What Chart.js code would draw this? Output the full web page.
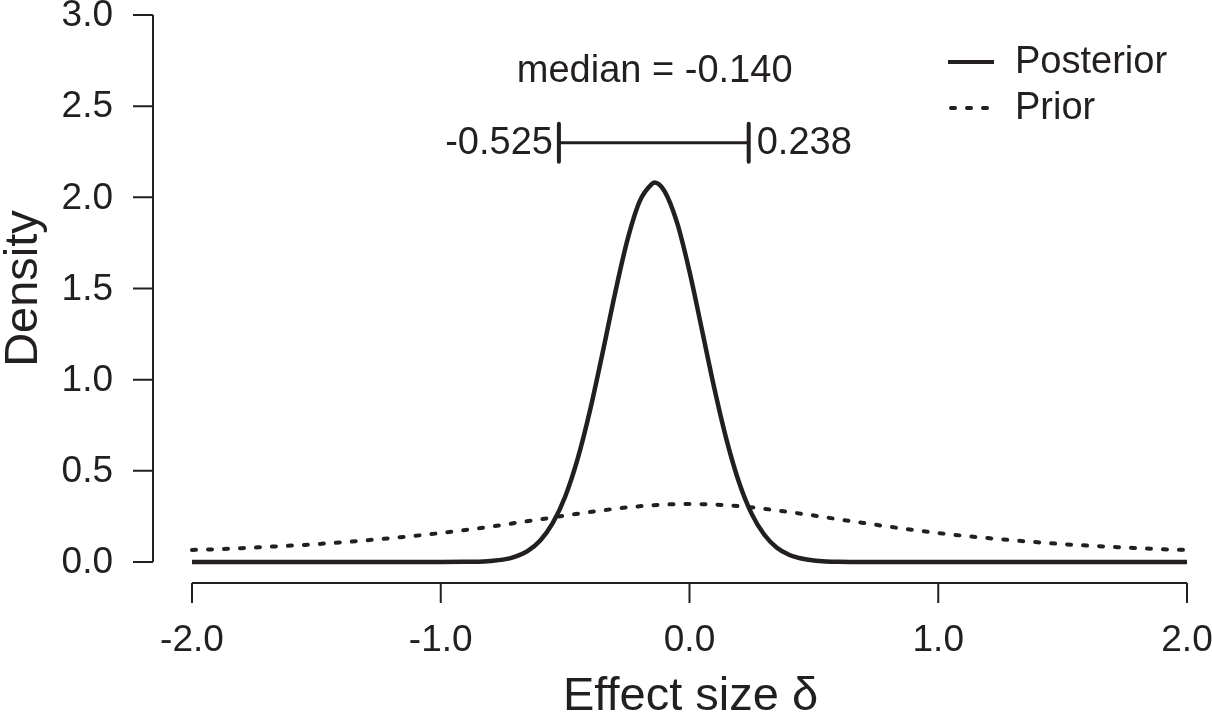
<!DOCTYPE html>
<html>
<head>
<meta charset="utf-8">
<script src="https://cdn.jsdelivr.net/npm/chart.js@4/dist/chart.umd.min.js"></script>
<style>
  html, body { margin: 0; padding: 0; background: #fff; }
  canvas { display: block; }
</style>
</head>
<body>
<canvas id="densityChart" width="1212" height="712"></canvas>
<script>
//Data
var postX = [-2.0, -1.5, -1.2, -1.0, -0.9, -0.85, -0.8, -0.75, -0.7, -0.65, -0.6, -0.55, -0.5, -0.45, -0.4, -0.35, -0.3, -0.25, -0.2, -0.15, -0.14, -0.1, -0.05, 0.0, 0.05, 0.1, 0.15, 0.2, 0.25, 0.3, 0.35, 0.4, 0.45, 0.5, 0.55, 0.6, 0.7, 0.8, 1.0, 1.5, 2.0];
var postY = [0, 0, 0, 0, 0.001, 0.002, 0.006, 0.013, 0.030, 0.061, 0.118, 0.213, 0.358, 0.564, 0.831, 1.143, 1.469, 1.764, 1.979, 2.075, 2.082, 2.033, 1.861, 1.593, 1.274, 0.951, 0.664, 0.433, 0.264, 0.151, 0.080, 0.040, 0.019, 0.008, 0.003, 0.001, 0, 0, 0, 0, 0];

var priorX = [-2.0, -1.9, -1.8, -1.7, -1.6, -1.5, -1.4, -1.3, -1.2, -1.1, -1.0, -0.9, -0.8, -0.7, -0.6, -0.5, -0.4, -0.3, -0.2, -0.1, 0.0, 0.1, 0.2, 0.3, 0.4, 0.5, 0.6, 0.7, 0.8, 0.9, 1.0, 1.1, 1.2, 1.3, 1.4, 1.5, 1.6, 1.7, 1.8, 1.9, 2.0];
var priorY = [0.066, 0.070, 0.076, 0.083, 0.090, 0.098, 0.108, 0.119, 0.131, 0.144, 0.159, 0.176, 0.194, 0.214, 0.234, 0.255, 0.274, 0.292, 0.306, 0.315, 0.318, 0.315, 0.306, 0.292, 0.274, 0.255, 0.234, 0.214, 0.194, 0.176, 0.159, 0.144, 0.131, 0.119, 0.108, 0.098, 0.090, 0.083, 0.076, 0.070, 0.066];

//Axis ticks
var xTicks = [-2.0, -1.0, 0.0, 1.0, 2.0];
var xTickLabels = ["-2.0", "-1.0", "0.0", "1.0", "2.0"];
var yTicks = [0, 0.5, 1.0, 1.5, 2.0, 2.5, 3.0];
var yTickLabels = ["0.0", "0.5", "1.0", "1.5", "2.0", "2.5", "3.0"];

//Summary of the posterior
var medianValue = -0.140;
var ciLower = -0.525;
var ciUpper = 0.238;
var ciHeight = 2.30;

var seriesNames = ["Posterior", "Prior"];

var ink = "#231f20";
var fontName = "'Liberation Sans', Arial, sans-serif";

function makePoints(xs, ys){
  var pts = [];
  for(var i = 0; i < xs.length; i++){
    pts.push({x: xs[i], y: ys[i]});
  }
  return pts;
}

//Draws the R style axes, labels, legend and the interval
var extrasPlugin = {
  id: 'extras',
  afterDraw: function(chart){
    var ctx = chart.ctx;
    var xs = chart.scales.x;
    var ys = chart.scales.y;
    var i;

    ctx.save();
    ctx.strokeStyle = ink;
    ctx.fillStyle = ink;
    ctx.lineWidth = 2;
    ctx.lineCap = "butt";

    //y axis
    var axX = 153;
    ctx.beginPath();
    ctx.moveTo(axX, ys.getPixelForValue(yTicks[0]));
    ctx.lineTo(axX, ys.getPixelForValue(yTicks[yTicks.length-1]));
    for(i = 0; i < yTicks.length; i++){
      var py = ys.getPixelForValue(yTicks[i]);
      ctx.moveTo(axX, py);
      ctx.lineTo(axX-20, py);
    }
    ctx.stroke();

    ctx.font = "37px " + fontName;
    ctx.textAlign = "right";
    ctx.textBaseline = "middle";
    for(i = 0; i < yTicks.length; i++){
      ctx.fillText(yTickLabels[i], 113, ys.getPixelForValue(yTicks[i]) + 1);
    }

    //x axis
    var axY = 583;
    ctx.beginPath();
    ctx.moveTo(xs.getPixelForValue(xTicks[0]), axY);
    ctx.lineTo(xs.getPixelForValue(xTicks[xTicks.length-1]), axY);
    for(i = 0; i < xTicks.length; i++){
      var px = xs.getPixelForValue(xTicks[i]);
      ctx.moveTo(px, axY);
      ctx.lineTo(px, axY+20);
    }
    ctx.stroke();

    ctx.textAlign = "center";
    for(i = 0; i < xTicks.length; i++){
      ctx.fillText(xTickLabels[i], xs.getPixelForValue(xTicks[i]), 641);
    }

    //axis titles
    ctx.font = "47px " + fontName;
    ctx.textBaseline = "alphabetic";
    ctx.fillText("Effect size \u03b4", (xs.left + xs.right)/2 + 1, 710);
    ctx.save();
    ctx.translate(37, (ys.top + ys.bottom)/2);
    ctx.rotate(-Math.PI/2);
    ctx.fillText("Density", 0, 0);
    ctx.restore();

    //credible interval
    var ciY = ys.getPixelForValue(ciHeight);
    var lx = xs.getPixelForValue(ciLower);
    var rx = xs.getPixelForValue(ciUpper);
    ctx.lineWidth = 3;
    ctx.beginPath();
    ctx.moveTo(lx, ciY);
    ctx.lineTo(rx, ciY);
    ctx.stroke();
    ctx.lineWidth = 4;
    ctx.lineCap = "round";
    ctx.beginPath();
    ctx.moveTo(lx, ciY-19);
    ctx.lineTo(lx, ciY+19);
    ctx.moveTo(rx, ciY-19);
    ctx.lineTo(rx, ciY+19);
    ctx.stroke();
    ctx.lineCap = "butt";

    ctx.font = "38px " + fontName;
    ctx.textBaseline = "middle";
    ctx.textAlign = "right";
    ctx.fillText(ciLower.toFixed(3), lx-6, ciY+1);
    ctx.textAlign = "left";
    ctx.fillText(ciUpper.toFixed(3), rx+8, ciY+1);
    ctx.textAlign = "center";
    ctx.fillText("median = " + medianValue.toFixed(3), xs.getPixelForValue(medianValue), 72);

    //legend
    ctx.lineWidth = 4;
    ctx.beginPath();
    ctx.moveTo(948, 62);
    ctx.lineTo(994, 62);
    ctx.stroke();
    ctx.setLineDash([4, 12]);
    ctx.lineCap = "round";
    ctx.beginPath();
    ctx.moveTo(951, 108);
    ctx.lineTo(994, 108);
    ctx.stroke();
    ctx.setLineDash([]);
    ctx.textAlign = "left";
    ctx.fillText(seriesNames[0], 1015, 63);
    ctx.fillText(seriesNames[1], 1015, 109);

    ctx.restore();
  }
};

function initChart(){
  var ctxL = document.getElementById("densityChart").getContext('2d');
  var myChart = new Chart(ctxL, {
    type: 'line',
    data: {
      datasets: [{
        label: seriesNames[0],
        data: makePoints(postX, postY),
        borderColor: ink,
        borderWidth: 4.5,
        pointRadius: 0,
        cubicInterpolationMode: 'monotone',
        borderJoinStyle: 'round',
        clip: false
      }, {
        label: seriesNames[1],
        data: makePoints(priorX, priorY),
        borderColor: ink,
        borderWidth: 4,
        borderDash: [4, 12],
        borderCapStyle: 'round',
        pointRadius: 0,
        cubicInterpolationMode: 'monotone',
        clip: false
      }]
    },
    options: {
      responsive: false,
      animation: false,
      layout: { padding: { left: 192, right: 25, top: 15, bottom: 150 } },
      plugins: { legend: { display: false }, tooltip: { enabled: false } },
      scales: {
        x: { type: 'linear', min: -2, max: 2, display: false },
        y: { type: 'linear', min: 0, max: 3, display: false }
      }
    },
    plugins: [extrasPlugin]
  });
}

window.onload = initChart;
</script>
</body>
</html>
